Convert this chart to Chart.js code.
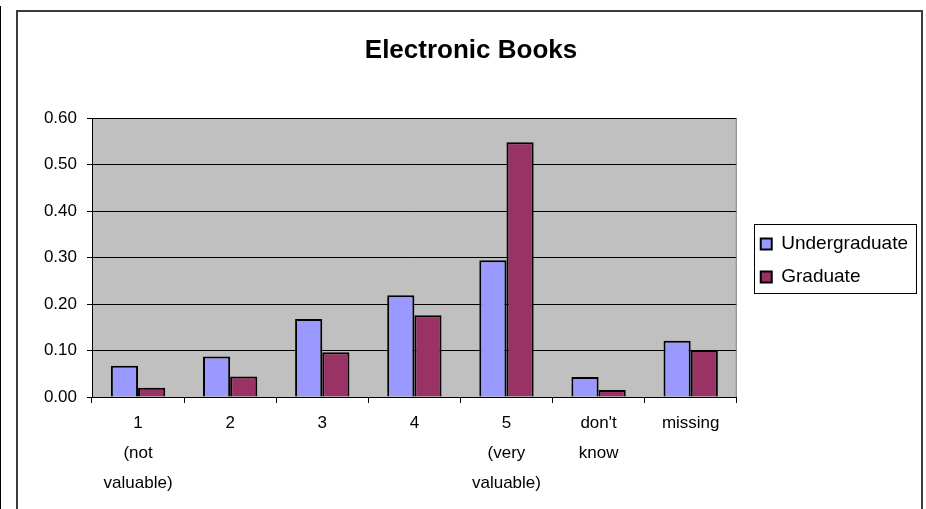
<!DOCTYPE html>
<html>
<head>
<meta charset="utf-8">
<script src="https://cdn.jsdelivr.net/npm/chart.js@4/dist/chart.umd.min.js"></script>
<style>
  html, body { margin: 0; padding: 0; background: #ffffff; }
  canvas { display: block; }
</style>
</head>
<body>
<canvas id="chart" width="926" height="509"></canvas>
<script>
// Rating categories (multi-line axis labels)
const categories = [
  ["1", "(not", "valuable)"],
  ["2"],
  ["3"],
  ["4"],
  ["5", "(very", "valuable)"],
  ["don't", "know"],
  ["missing"]
];

// Share of respondents per rating
const undergraduate = [0.067, 0.087, 0.168, 0.219, 0.294, 0.043, 0.121];
const graduate      = [0.020, 0.044, 0.096, 0.176, 0.548, 0.015, 0.101];

// Value axis ticks
const yTickValues = [0.00, 0.10, 0.20, 0.30, 0.40, 0.50, 0.60];

const FONT = "'Liberation Sans', Arial, sans-serif";

// Page frame, grey plot background and plot border
const framePlugin = {
  id: 'frame',
  beforeDraw(chart) {
    const { ctx, chartArea: a } = chart;
    ctx.save();
    ctx.fillStyle = '#ffffff';
    ctx.fillRect(0, 0, chart.width, chart.height);
    // left rule
    ctx.fillStyle = '#000000';
    ctx.fillRect(0, 6, 1, chart.height - 6);
    // outer chart border
    ctx.strokeStyle = '#3c3c3c';
    ctx.lineWidth = 2;
    ctx.strokeRect(17, 11, 905, chart.height + 10);
    // plot area fill
    ctx.fillStyle = '#c0c0c0';
    ctx.fillRect(a.left, a.top, a.right - a.left, a.bottom - a.top);
    ctx.restore();
  },
  beforeDatasetsDraw(chart) {
    const { ctx, chartArea: a } = chart;
    ctx.save();
    ctx.strokeStyle = '#808080';
    ctx.lineWidth = 1;
    ctx.beginPath();
    ctx.moveTo(a.right - 0.5, a.top);
    ctx.lineTo(a.right - 0.5, a.bottom);
    ctx.stroke();
    ctx.restore();
  }
};

// Centre the title over the whole frame, nudge the legend and box it in
const legendBoxPlugin = {
  id: 'legendBox',
  afterLayout(chart) {
    const lg = chart.legend;
    if (lg) { lg.left += 10; lg.right += 10; }
    const tb = chart.titleBlock;
    if (tb) { tb.left += 8; tb.right += 8; }
  },
  afterDraw(chart) {
    const lg = chart.legend;
    if (!lg || !lg.legendHitBoxes.length) return;
    const hb = lg.legendHitBoxes;
    const left = Math.min(...hb.map(h => h.left)) - 7;
    const right = Math.max(...hb.map(h => h.left + h.width)) + 8;
    const top = hb[0].top - 10.5;
    const bottom = hb[hb.length - 1].top + hb[hb.length - 1].height + 6.5;
    const { ctx } = chart;
    ctx.save();
    ctx.strokeStyle = '#000000';
    ctx.lineWidth = 1;
    ctx.strokeRect(Math.round(left) + 0.5, Math.round(top) + 0.5,
                   Math.round(right - left), Math.round(bottom - top));
    ctx.restore();
  }
};

new Chart(document.getElementById('chart'), {
  type: 'bar',
  data: {
    labels: categories,
    datasets: [
      {
        label: 'Undergraduate',
        data: undergraduate,
        backgroundColor: '#9999ff',
        borderColor: '#000000',
        borderWidth: 2
      },
      {
        label: 'Graduate',
        data: graduate,
        backgroundColor: '#993366',
        borderColor: '#000000',
        borderWidth: 2
      }
    ]
  },
  options: {
    responsive: false,
    animation: false,
    devicePixelRatio: 1,
    layout: { padding: { left: 18, right: 18, top: 12, bottom: 0 } },
    datasets: {
      bar: { categoryPercentage: 0.59, barPercentage: 1.0 }
    },
    plugins: {
      title: {
        display: true,
        text: 'Electronic Books',
        color: '#000000',
        font: { family: FONT, size: 26, weight: 'bold', lineHeight: 1.2 },
        padding: { top: 23.4, bottom: 51.4 }
      },
      legend: {
        position: 'right',
        align: 'center',
        labels: {
          color: '#000000',
          font: { family: FONT, size: 19 },
          boxWidth: 11,
          boxHeight: 11,
          padding: 14
        }
      },
      tooltip: { enabled: false }
    },
    scales: {
      x: {
        offset: true,
        grid: {
          display: true,
          offset: true,
          drawOnChartArea: false,
          drawTicks: true,
          tickLength: 6,
          color: '#000000',
          lineWidth: 1
        },
        border: { display: true, color: '#000000', width: 1 },
        ticks: {
          color: '#000000',
          font: { family: FONT, size: 17, lineHeight: 1.765 },
          padding: 5,
          maxRotation: 0,
          autoSkip: false
        },
        afterFit(scale) { scale.height = 112; }
      },
      y: {
        min: 0,
        max: 0.6,
        afterBuildTicks(scale) {
          scale.ticks = yTickValues.map(v => ({ value: v }));
        },
        grid: {
          color: '#000000',
          lineWidth: 1,
          drawTicks: true,
          tickLength: 5
        },
        border: { display: true, color: '#000000', width: 1 },
        ticks: {
          color: '#000000',
          font: { family: FONT, size: 17 },
          padding: 10,
          callback: v => Number(v).toFixed(2)
        },
        afterFit(scale) { scale.width = 74; }
      }
    }
  },
  plugins: [framePlugin, legendBoxPlugin]
});
</script>
</body>
</html>
